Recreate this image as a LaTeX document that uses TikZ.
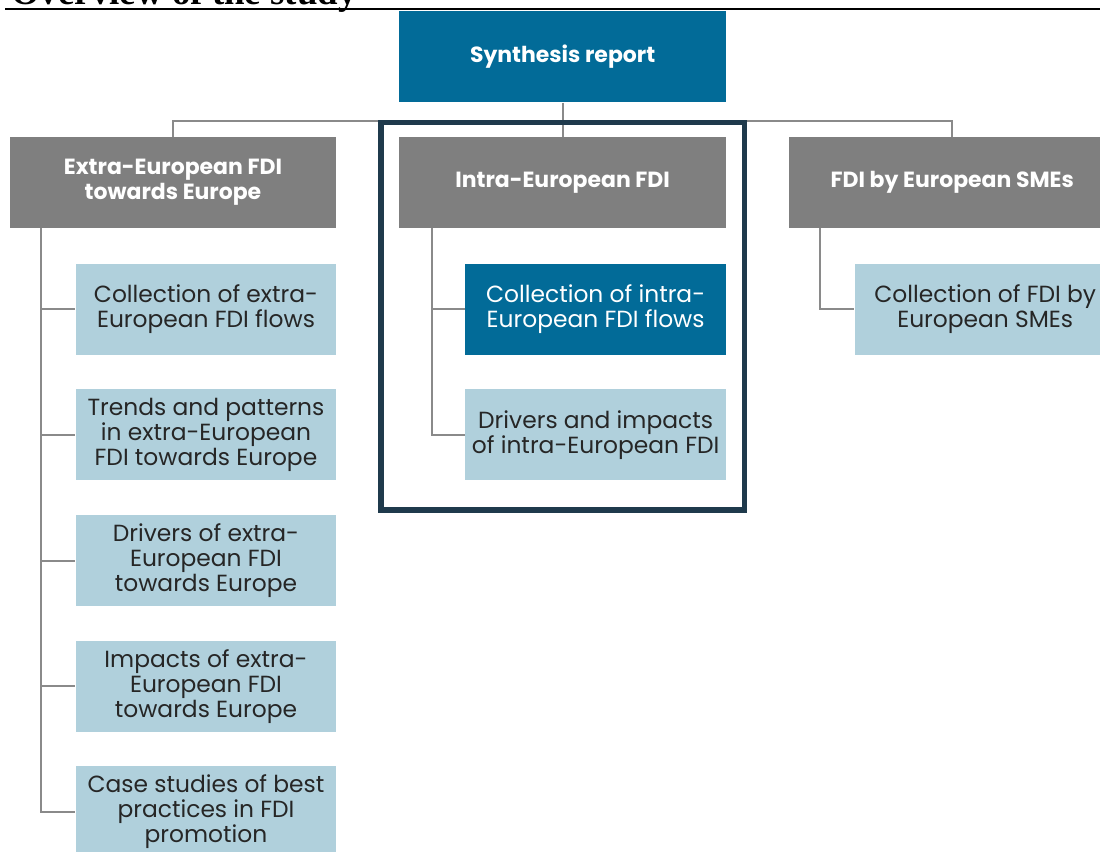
\documentclass[tikz,border=0pt]{standalone}
\usepackage{fontspec}
\setmainfont{Poppins}
\newfontfamily\titlefont{Liberation Serif}
\usepackage{xcolor}
\usepackage{tikz}
\usetikzlibrary{positioning}

\definecolor{synthblue}{HTML}{026B98}
\definecolor{headgray}{HTML}{7F7F7F}
\definecolor{subblue}{HTML}{B0D0DC}
\definecolor{framenavy}{HTML}{1F3A4C}
\definecolor{linegray}{HTML}{8A8A8A}
\definecolor{textdark}{HTML}{262626}

\begin{document}
\begin{tikzpicture}[
    x=0.02cm, y=-0.02cm,
    head/.style={rectangle, fill=headgray, text=white, minimum width=6.54cm, minimum height=1.82cm, align=center, inner sep=0pt, font=\fontsize{12.5}{14.2}\selectfont\bfseries},
    top/.style={head, fill=synthblue},
    sub/.style={rectangle, fill=subblue, text=textdark, minimum width=5.22cm, minimum height=1.82cm, align=center, inner sep=0pt, font=\fontsize{13.3}{14.2}\selectfont},
    subdark/.style={sub, fill=synthblue, text=white},
    link/.style={draw=linegray, line width=1.1pt},
    frame/.style={draw=framenavy, line width=3.2pt},
]
\useasboundingbox (0,0) rectangle (1100,852);
\node[anchor=base west, font=\titlefont\fontsize{21}{24}\selectfont\bfseries] (title) at (5,5) {Overview of the study};
\draw[line width=1.4pt] (5,9) -- (1100,9);
\node[head] (extra) at (173,182.5) {Extra-European FDI\\towards Europe};
\node[head, right=1.24cm of extra] (intra) {Intra-European FDI};
\node[head, right=1.24cm of intra] (sme) {FDI by European SMEs};
\node[top, above=0.68cm of intra] (synth) {Synthesis report};
\node[sub, below=0.7cm of extra.south east, anchor=north east] (colext) {Collection of extra-\\European FDI flows};
\node[sub, below=0.68cm of colext] (trends) {Trends and patterns\\in extra-European\\FDI towards Europe};
\node[sub, below=0.68cm of trends] (drivext) {Drivers of extra-\\European FDI\\towards Europe};
\node[sub, below=0.68cm of drivext] (impext) {Impacts of extra-\\European FDI\\towards Europe};
\node[sub, below=0.68cm of impext] (cases) {Case studies of best\\practices in FDI\\promotion};
\node[subdark, below=0.7cm of intra.south east, anchor=north east] (colint) {Collection of intra-\\European FDI flows};
\node[sub, below=0.68cm of colint] (drivint) {Drivers and impacts\\of intra-European FDI};
\node[sub, below=0.7cm of sme.south east, anchor=north east] (colsme) {Collection of FDI by\\European SMEs};
% tree lines
\coordinate (bar) at (561,121);
\draw[link] (synth) -- (intra);
\draw[link] (extra.north) -- (extra.north |- bar) -- (sme.north |- bar) -- (sme.north);
\foreach \n in {colext, trends, drivext, impext, cases}
    \draw[link] ([xshift=0.64cm]extra.south west) |- (\n.west);
\foreach \n in {colint, drivint}
    \draw[link] ([xshift=0.66cm]intra.south west) |- (\n.west);
\draw[link] ([xshift=0.64cm]sme.south west) |- (colsme.west);
% box round the intra-European part
\draw[frame] ([shift={(-0.36cm,0.28cm)}]intra.north west) rectangle ([shift={(0.36cm,-0.58cm)}]drivint.south east);
\end{tikzpicture}
\end{document}
